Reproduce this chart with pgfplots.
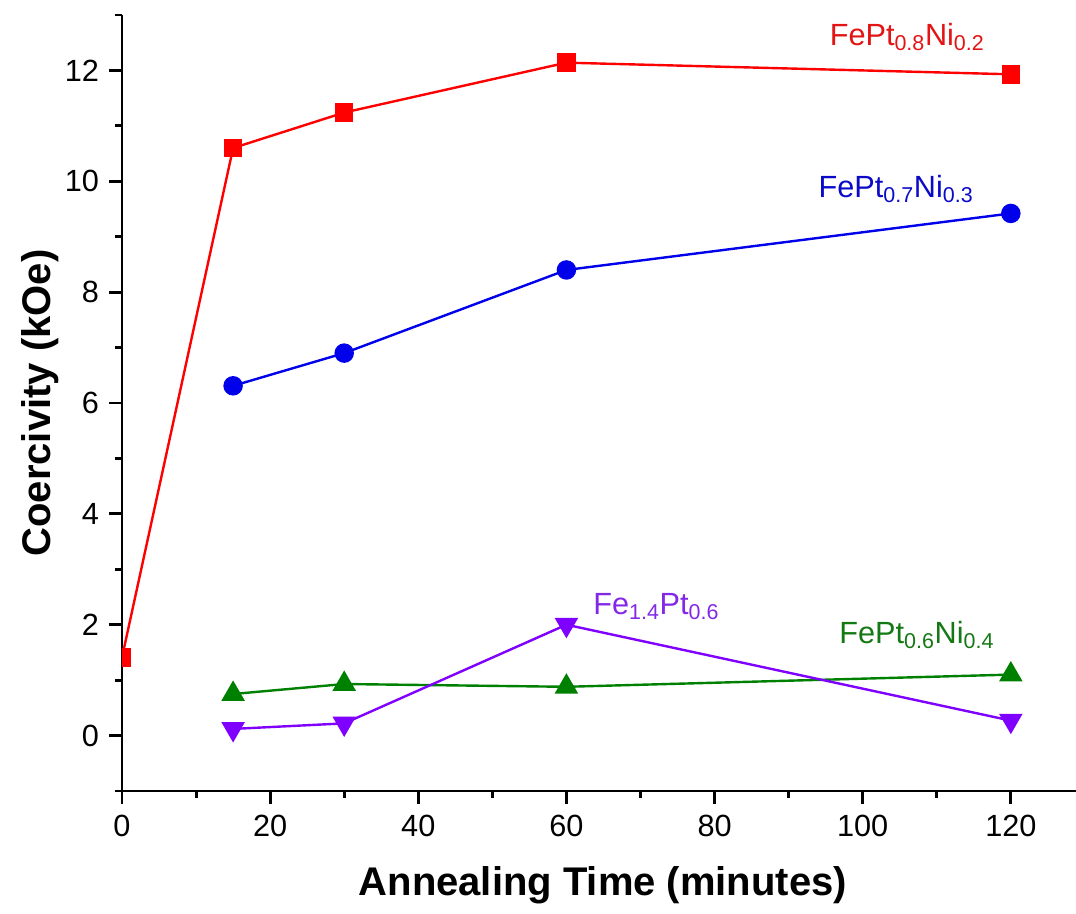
\documentclass[border=0pt]{standalone}
\usepackage{pgfplots}
\pgfplotsset{compat=1.18}
\usepackage{fontspec}
\setmainfont{Liberation Sans}

\definecolor{sred}{RGB}{255,0,0}
\definecolor{sblue}{RGB}{0,0,235}
\definecolor{sgreen}{RGB}{0,128,0}
\definecolor{spurple}{RGB}{128,0,255}
\definecolor{tred}{RGB}{226,20,20}
\definecolor{tblue}{RGB}{10,10,200}
\definecolor{tgreen}{RGB}{20,120,20}
\definecolor{tpurple}{RGB}{130,40,230}

\begin{document}
\begin{tikzpicture}
\begin{axis}[
  scale only axis,
  width=715.5pt, height=582pt,
  xmin=0, xmax=128.8, ymin=-1, ymax=13,
  axis x line*=bottom, axis y line*=left,
  axis line style={line width=2.2pt},
  xtick={0,20,...,120}, ytick={0,2,...,12},
  minor xtick={10,30,...,110}, minor ytick={-1,1,...,13},
  tick align=outside,
  major tick length=9.75pt, minor tick length=5pt,
  every tick/.style={black, line width=2.2pt},
  ticklabel style={font=\fontsize{23}{27}\selectfont},
  /pgf/number format/assume math mode=true,
  yticklabel style={xshift=-4pt},
  xticklabel style={yshift=-5pt},
  xlabel={Annealing Time (minutes)},
  ylabel={Coercivity (kOe)},
  label style={font=\fontsize{30}{34}\selectfont\bfseries},
  xlabel style={at={(axis description cs:0.504,-0.121)}, anchor=center},
  ylabel style={at={(axis description cs:-0.086,0.5)}, anchor=center},
  clip marker paths=true,
  every axis plot/.append style={line width=1.8pt},
]
% FePt0.8Ni0.2
\addplot[color=sred, mark=square*, mark size=6pt] coordinates {
  (0,1.41) (15,10.6) (30,11.24) (60,12.14) (120,11.93)};
% FePt0.7Ni0.3
\addplot[color=sblue, mark=*, mark size=6.4pt] coordinates {
  (15,6.31) (30,6.9) (60,8.4) (120,9.42)};
% FePt0.6Ni0.4
\addplot[color=sgreen, mark=triangle*, mark size=8.4pt] coordinates {
  (15,0.75) (30,0.93) (60,0.88) (120,1.10)};
% Fe1.4Pt0.6
\addplot[color=spurple, mark=triangle*, mark size=8.4pt,
  mark options={rotate=180}] coordinates {
  (15,0.12) (30,0.22) (60,2.0) (120,0.27)};

\node[text=tred, anchor=base, font=\fontsize{23}{27}\selectfont]
  at (axis cs:106.0,12.45) {FePt\textsubscript{0.8}Ni\textsubscript{0.2}};
\node[text=tblue, anchor=base, font=\fontsize{23}{27}\selectfont]
  at (axis cs:104.5,9.71) {FePt\textsubscript{0.7}Ni\textsubscript{0.3}};
\node[text=tpurple, anchor=base west, inner sep=0pt, font=\fontsize{23}{27}\selectfont]
  at (axis cs:63.6,2.18) {Fe\textsubscript{1.4}Pt\textsubscript{0.6}};
\node[text=tgreen, anchor=base, font=\fontsize{23}{27}\selectfont]
  at (axis cs:107.3,1.66) {FePt\textsubscript{0.6}Ni\textsubscript{0.4}};
\end{axis}
\pgfresetboundingbox
\path ([xshift=-91.5pt,yshift=-91.5pt]current axis.south west)
  rectangle ([yshift=11.25pt]current axis.north east);
\end{tikzpicture}
\end{document}
